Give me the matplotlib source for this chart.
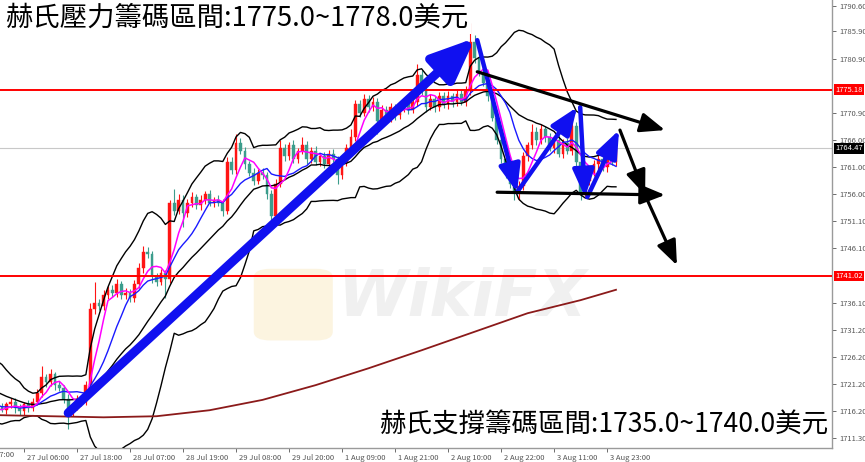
import numpy as np
import pandas as pd
import matplotlib
matplotlib.use('Agg')
import matplotlib.pyplot as plt
import matplotlib.transforms as mtransforms
from matplotlib.patches import FancyBboxPatch

# gold H1 closes, 20 bars before the visible window (only feed the bands / MAs)
warmup_close = [1723.0, 1724.0, 1725.0, 1724.0, 1723.0, 1722.0, 1723.0, 1721.0, 1720.0, 1719.0,
                1720.0, 1719.0, 1718.0, 1718.0, 1717.0, 1718.0, 1717.0, 1716.0, 1717.0, 1716.0]

# visible bars 0..140
close = [1717.0, 1716.5, 1717.5, 1718.0, 1716.8, 1716.2, 1717.5, 1716.8, 1718.0, 1719.5,
         1722.5, 1721.5, 1723.0, 1721.0, 1720.5, 1718.5, 1716.0, 1717.0, 1718.5, 1718.0,
         1721.0, 1735.0, 1736.0, 1735.5, 1737.5, 1738.5, 1738.0, 1739.5, 1737.5, 1738.0,
         1737.0, 1739.5, 1742.5, 1745.5, 1745.0, 1741.0, 1740.0, 1741.5, 1740.5, 1754.5,
         1753.0, 1755.0, 1752.5, 1754.5, 1755.5, 1754.0, 1755.0, 1756.0, 1754.5, 1755.0,
         1754.5, 1753.0, 1762.0, 1760.5, 1765.5, 1764.0, 1761.5, 1760.0, 1758.5, 1760.0,
         1759.5, 1756.0, 1752.0, 1758.0, 1764.5, 1763.0, 1765.0, 1762.5, 1764.0, 1765.0,
         1762.5, 1764.0, 1762.0, 1763.0, 1761.5, 1763.5, 1762.5, 1759.5, 1762.0, 1764.5,
         1766.5, 1772.5, 1771.0, 1773.5, 1772.0, 1773.0, 1769.5, 1771.5, 1770.0, 1772.0,
         1770.5, 1772.0, 1773.0, 1771.5, 1773.0, 1778.0, 1775.0, 1772.0, 1773.5, 1772.0,
         1774.0, 1772.5, 1774.0, 1773.0, 1774.5, 1773.0, 1775.0, 1784.0, 1781.0, 1778.5,
         1776.5, 1774.0, 1770.0, 1766.0, 1762.5, 1760.0, 1758.0, 1756.5, 1757.5, 1763.0,
         1765.0, 1767.5, 1766.0, 1768.0, 1766.5, 1764.5, 1766.0, 1763.5, 1765.5, 1764.0,
         1768.5, 1762.0, 1756.5, 1758.5, 1760.0, 1761.5, 1762.5, 1761.0, 1763.0, 1762.0,
         1764.47]

# wick extension above max(open, close) / below min(open, close)
hi_wick = [0.6, 0.8, 0.5, 0.7, 0.6, 0.8, 0.5, 0.7, 0.6, 0.8,
           2.0, 0.6, 0.9, 0.5, 0.7, 0.6, 0.8, 0.6, 0.7, 0.5,
           0.8, 1.0, 4.0, 0.8, 0.9, 0.7, 0.8, 1.0, 0.6, 0.8,
           0.7, 0.8, 0.9, 1.0, 0.8, 0.7, 0.6, 0.9, 0.7, 0.5,
           2.5, 1.0, 0.8, 0.7, 0.9, 0.6, 0.8, 0.7, 0.9, 0.6,
           0.8, 0.7, 0.8, 0.9, 1.5, 0.8, 0.7, 0.6, 0.8, 0.7,
           0.9, 0.6, 0.8, 0.9, 1.5, 0.8, 0.7, 0.9, 0.6, 1.5,
           0.8, 0.7, 0.9, 0.6, 0.8, 0.7, 0.9, 0.6, 0.8, 0.7,
           1.5, 0.8, 0.9, 1.0, 0.7, 0.8, 0.6, 0.9, 0.7, 0.8,
           0.6, 0.8, 0.7, 0.9, 0.6, 2.0, 0.8, 0.7, 0.9, 0.6,
           0.8, 0.7, 0.9, 0.6, 0.8, 0.7, 0.9, 3.5, 1.2, 0.8,
           0.7, 0.6, 0.8, 0.7, 0.6, 0.8, 0.7, 0.6, 0.9, 0.8,
           0.7, 1.5, 0.8, 0.9, 0.6, 0.8, 0.7, 0.9, 0.6, 0.8,
           2.0, 0.8, 0.7, 0.9, 0.6, 0.8, 0.7, 0.9, 0.6, 0.8,
           0.5]
lo_wick = [0.7, 0.5, 0.8, 0.6, 0.9, 0.7, 0.6, 0.8, 0.5, 0.7,
           0.6, 0.8, 0.7, 0.9, 0.6, 0.8, 3.0, 0.7, 0.6, 0.8,
           0.7, 0.6, 0.9, 0.8, 0.7, 0.6, 0.8, 0.9, 0.7, 0.6,
           0.8, 0.7, 0.6, 0.9, 0.7, 1.2, 0.8, 0.6, 3.5, 0.7,
           0.8, 0.6, 2.5, 0.7, 0.9, 0.6, 0.8, 0.7, 0.6, 0.8,
           0.7, 0.9, 0.6, 0.8, 0.7, 0.6, 0.9, 0.7, 0.8, 0.6,
           0.7, 0.8, 2.5, 0.6, 0.7, 0.9, 0.6, 0.8, 0.7, 0.6,
           0.9, 0.7, 0.6, 0.8, 0.7, 0.9, 0.6, 1.5, 0.7, 0.8,
           0.6, 0.7, 0.8, 0.6, 0.9, 0.7, 2.5, 0.8, 0.6, 0.7,
           0.8, 0.6, 0.9, 0.7, 0.6, 0.8, 0.7, 0.9, 0.6, 0.8,
           0.7, 0.6, 0.8, 0.9, 0.7, 0.6, 0.8, 0.7, 0.9, 0.8,
           0.7, 0.9, 0.6, 0.8, 0.7, 0.9, 0.8, 1.5, 1.5, 0.7,
           0.8, 0.6, 0.9, 0.7, 0.8, 0.6, 0.9, 0.7, 0.8, 0.6,
           0.7, 0.9, 1.5, 0.8, 0.7, 0.6, 0.9, 0.7, 0.8, 0.6,
           0.7]

# long moving average (dark red), read at the time ticks
ma_long_bars = [0, 12, 24, 36, 48, 60, 72, 84, 96, 108, 120, 132, 140]
ma_long_vals = [1715.5, 1715.3, 1715.1, 1715.3, 1716.4, 1718.3, 1721.0, 1724.1,
                1727.4, 1730.8, 1734.2, 1736.6, 1738.5]

tick_bars = [-6, 6, 18, 30, 42, 54, 66, 78, 90, 102, 114, 126, 138]
tick_labels = ['24 Jul 17:00', '27 Jul 06:00', '27 Jul 18:00', '28 Jul 07:00', '28 Jul 19:00',
               '29 Jul 08:00', '29 Jul 20:00', '1 Aug 09:00', '1 Aug 21:00', '2 Aug 10:00',
               '2 Aug 22:00', '3 Aug 11:00', '3 Aug 23:00']

price_ticks = [1711.30, 1716.20, 1721.20, 1726.20, 1731.20, 1736.10, 1746.10, 1751.10,
               1756.00, 1761.00, 1766.00, 1770.90, 1780.90, 1785.90, 1790.60]

level_hi = 1775.18
level_lo = 1741.02
last_price = 1764.47

# drawn annotations (bar index, price)
trend_arrow = [(16.0, 1715.9), (108.1, 1784.7)]
zigzag = [[(108.6, 1784.3), (117.6, 1756.4)],
          [(117.6, 1756.4), (131.2, 1772.0)],
          [(131.9, 1772.0), (133.0, 1755.5)],
          [(133.5, 1755.5), (140.7, 1767.8)]]
black_arrows = [[(108.6, 1778.5), (151.1, 1767.8)],
                [(113.1, 1756.4), (151.1, 1755.9)],
                [(140.9, 1767.8), (146.6, 1755.9)],
                [(146.8, 1755.5), (153.8, 1743.0)]]

title_top = '赫氏壓力籌碼區間:1775.0~1778.0美元'
title_bottom = '赫氏支撐籌碼區間:1735.0~1740.0美元'

plt.rcParams['font.family'] = ['Noto Sans CJK TC', 'DejaVu Sans']

# indicators on the full series
all_close = pd.Series(warmup_close + close, index=np.arange(-len(warmup_close), len(close)))
sma5 = all_close.rolling(5).mean()
sma10 = all_close.rolling(10).mean()
mid = all_close.rolling(20).mean()
sd = all_close.rolling(20).std(ddof=0)
upper = mid + 2 * sd
lower = mid - 2 * sd

c = np.array(close)
o = np.concatenate([[warmup_close[-1]], c[:-1]])
bars = np.arange(len(c))
hi = np.maximum(o, c) + np.array(hi_wick)
lo = np.minimum(o, c) - np.array(lo_wick)
up = c >= o

fig = plt.figure(figsize=(8.65, 4.62), dpi=100)
ax = fig.add_axes([0, 14 / 462, 832 / 865, 448 / 462])

red = '#ff1414'
teal = '#3c9d8c'
cols = np.where(up, red, teal)

# candles
ax.vlines(bars, lo, hi, colors=cols, lw=0.8, zorder=2)
ax.bar(bars, np.maximum(np.abs(c - o), 0.15), bottom=np.minimum(o, c), width=0.62,
       color=cols, edgecolor=cols, lw=0.3, zorder=2)

# indicators
ax.plot(all_close.index, upper, color='black', lw=1.0, zorder=3)
ax.plot(all_close.index, mid, color='black', lw=1.0, zorder=3)
ax.plot(all_close.index, lower, color='black', lw=1.0, zorder=3)
ax.plot(all_close.index, sma10, color='#1a1aff', lw=1.0, zorder=3)
ax.plot(all_close.index, sma5, color='#ff00ff', lw=1.1, zorder=3)
ax.plot(ma_long_bars, ma_long_vals, color='#8b1a1a', lw=1.3, zorder=3)

# levels
ax.axhline(last_price, color='#c8c8c8', lw=0.8, zorder=1)
ax.axhline(level_hi, color='#ff0000', lw=1.4, zorder=4)
ax.axhline(level_lo, color='#ff0000', lw=1.4, zorder=4)

# watermark
ax.text(0.555, 0.335, 'WikiFX', transform=ax.transAxes, fontsize=46, fontweight='bold',
        style='italic', color='#f0f0f0', ha='center', va='center', family='DejaVu Sans', zorder=1)
logo = FancyBboxPatch((0.31, 0.245), 0.085, 0.15, boxstyle='round,pad=0.005,rounding_size=0.02',
                      transform=ax.transAxes, facecolor='#fcf4e0', edgecolor='none', zorder=1)
ax.add_patch(logo)

# arrows
ax.annotate('', xy=trend_arrow[1], xytext=trend_arrow[0],
            arrowprops=dict(arrowstyle='-|>,head_length=1.3,head_width=0.55', lw=6.5,
                            color='#1010f0', mutation_scale=20, shrinkA=0, shrinkB=0), zorder=5)
for a, b in zigzag:
    ax.annotate('', xy=b, xytext=a,
                arrowprops=dict(arrowstyle='-|>,head_length=1.4,head_width=0.55', lw=3.2,
                                color='#1010f0', mutation_scale=12, shrinkA=0, shrinkB=0), zorder=5)
for a, b in black_arrows:
    ax.annotate('', xy=b, xytext=a,
                arrowprops=dict(arrowstyle='-|>,head_length=1.5,head_width=0.6', lw=2.3,
                                color='black', mutation_scale=10, shrinkA=0, shrinkB=0), zorder=5)

ax.set_xlim(0.566, 188.9)
ax.set_ylim(1709.47, 1791.67)

for s in ['left', 'top']:
    ax.spines[s].set_visible(False)
for s in ['right', 'bottom']:
    ax.spines[s].set_color('#9a9a9a')
    ax.spines[s].set_linewidth(1.0)

ax.yaxis.tick_right()
ax.set_yticks(price_ticks)
ax.set_yticklabels([f'{v:.2f}' for v in price_ticks])
ax.tick_params(axis='y', labelsize=5.5, colors='#555555', length=3, pad=2, width=0.6)
ax.set_xticks(tick_bars[1:])
ax.set_xticklabels(tick_labels[1:])
ax.tick_params(axis='x', labelsize=5.5, colors='#555555', length=3, pad=1.5, width=0.6)
shift = mtransforms.ScaledTranslation(2 / 72, 0, fig.dpi_scale_trans)
for lbl in ax.get_xticklabels():
    lbl.set_ha('left')
    lbl.set_transform(lbl.get_transform() + shift)
# the label before the first visible tick runs off the left edge, as on the terminal
fig.text(-28 / 865, 7 / 462, tick_labels[0], fontsize=5.5, color='#555555', va='center')

# price tags on the right scale
tr = mtransforms.blended_transform_factory(ax.transAxes, ax.transData)
for val, bg in [(level_hi, '#ff0000'), (level_lo, '#ff0000'), (last_price, '#000000')]:
    ax.text(1.004, val, f'{val:.2f}', transform=tr, fontsize=5.5, color='white', va='center',
            ha='left', bbox=dict(facecolor=bg, edgecolor='none', pad=1.0), clip_on=False, zorder=6)

fig.text(5 / 865, 1 - 18 / 462, title_top, fontsize=19.7, color='black', va='center', ha='left',
         bbox=dict(facecolor='white', edgecolor='none', pad=2), zorder=10)
fig.text(828 / 865, 1 - 425 / 462, title_bottom, fontsize=19.1, color='black', va='center',
         ha='right', bbox=dict(facecolor='white', edgecolor='none', pad=2), zorder=10)

fig.savefig('out.png', dpi=100, facecolor='white')
